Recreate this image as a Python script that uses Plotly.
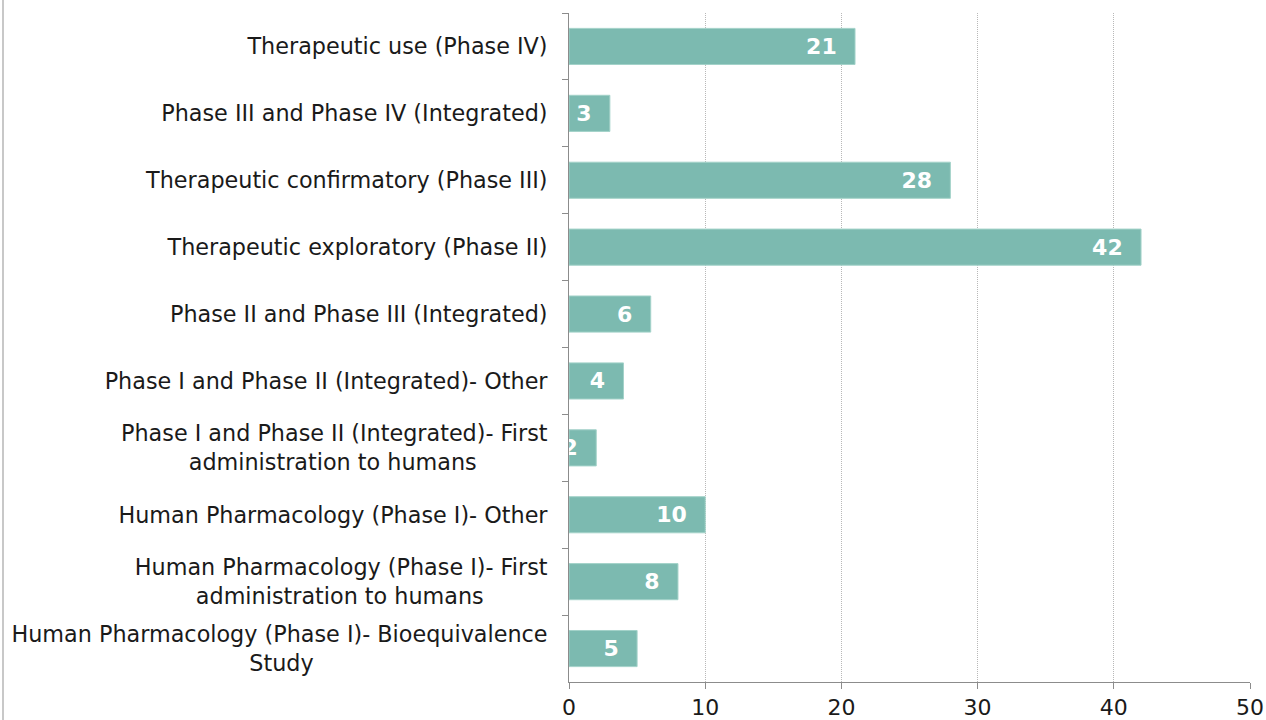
import plotly.graph_objects as go

NB = "\u00a0"
categories = [
    "Therapeutic use (Phase IV)",
    "Phase III and Phase IV (Integrated)",
    "Therapeutic confirmatory (Phase III)",
    "Therapeutic exploratory (Phase II)",
    "Phase II and Phase III (Integrated)",
    "Phase I and Phase II (Integrated)- Other",
    "Phase I and Phase II (Integrated)- First<br>administration to humans" + NB * 10,
    "Human Pharmacology (Phase I)- Other",
    "Human Pharmacology (Phase I)- First<br>administration to humans" + NB * 9,
    "Human Pharmacology (Phase I)- Bioequivalence<br>Study" + NB * 33,
]
values = [21, 3, 28, 42, 6, 4, 2, 10, 8, 5]
x_ticks = [0, 10, 20, 30, 40, 50]

FONT = "DejaVu Sans, Verdana, sans-serif"
L, R, T, B = 569, 16, 13, 38
PW = 1266 - L - R

fig = go.Figure(
    go.Bar(
        y=categories,
        x=values,
        orientation="h",
        marker=dict(color="#7cbab0", line=dict(color="#a3d2c9", width=1)),
        text=[f"{v}{NB*2}" for v in values],
        textposition="inside",
        insidetextanchor="end",
        textangle=0,
        textfont=dict(family=FONT, size=22, color="white", weight="bold"),
        cliponaxis=True,
        hoverinfo="skip",
    )
)

fig.update_layout(
    width=1266,
    height=720,
    margin=dict(l=L, r=R, t=T, b=B, autoexpand=False),
    paper_bgcolor="white",
    plot_bgcolor="white",
    bargap=0.46,
    showlegend=False,
    uniformtext=dict(minsize=22, mode="show"),
    font=dict(family=FONT, size=22.3, color="#1a1a1a"),
    shapes=[
        dict(type="line", xref="paper", yref="paper", x0=(3 - L) / PW, x1=(3 - L) / PW,
             y0=-0.1, y1=1.1, line=dict(color="#c8c8c8", width=2)),
    ],
)

fig.update_xaxes(
    range=[0, 50],
    tickvals=x_ticks,
    showgrid=True,
    gridcolor="#b8b8b8",
    griddash="1px,1px",
    gridwidth=1,
    showline=True,
    linecolor="#8c8c8c",
    linewidth=1,
    ticks="outside",
    ticklen=6,
    tickcolor="#8c8c8c",
    zeroline=False,
    automargin=False,
    tickfont=dict(size=22, color="#1a1a1a"),
    ticklabelstandoff=0,
    fixedrange=True,
)
fig.update_yaxes(
    autorange="reversed",
    showline=True,
    linecolor="#8c8c8c",
    linewidth=1,
    ticks="outside",
    tickson="boundaries",
    ticklen=6,
    tickcolor="#8c8c8c",
    showgrid=False,
    automargin=False,
    tickfont=dict(size=22.3, color="#1a1a1a"),
    ticklabelstandoff=16,
    fixedrange=True,
)

fig.write_html(
    "out.html",
    config={"displayModeBar": False},
    post_script="document.body.style.margin='0';document.body.style.overflow='hidden';",
)
